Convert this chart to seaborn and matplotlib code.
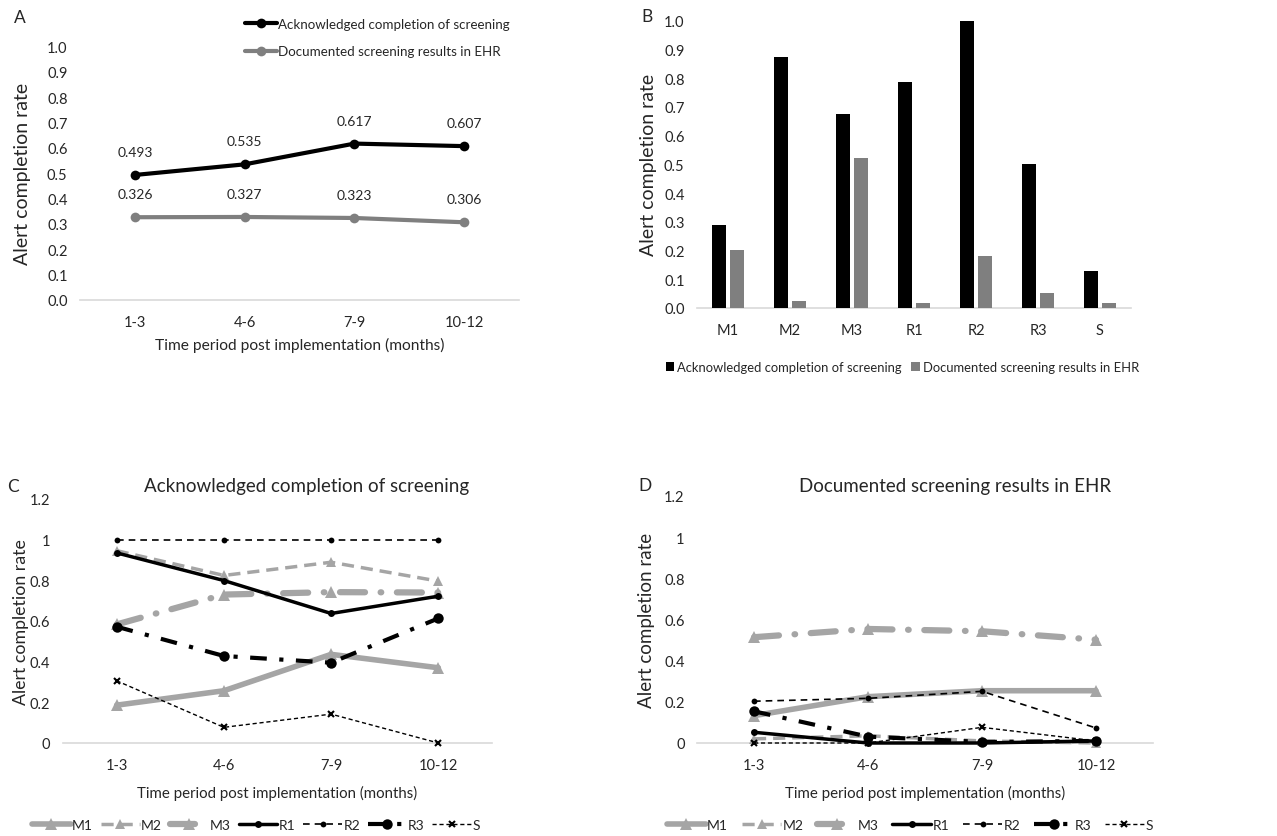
import numpy as np
import pandas as pd
import matplotlib
matplotlib.use("Agg")
import matplotlib.pyplot as plt
import seaborn as sns

# ---------------- data ----------------
periods = ["1-3", "4-6", "7-9", "10-12"]
ack_overall = [0.493, 0.535, 0.617, 0.607]
doc_overall = [0.326, 0.327, 0.323, 0.306]

sites = ["M1", "M2", "M3", "R1", "R2", "R3", "S"]
ack_site = [0.289, 0.874, 0.674, 0.788, 1.0, 0.501, 0.129]
doc_site = [0.203, 0.023, 0.523, 0.016, 0.180, 0.053, 0.019]

ack_M1 = [0.186, 0.257, 0.436, 0.370]
ack_M2 = [0.946, 0.824, 0.889, 0.796]
ack_M3 = [0.583, 0.730, 0.742, 0.740]
ack_R1 = [0.935, 0.799, 0.637, 0.722]
ack_R2 = [1.0, 1.0, 1.0, 1.0]
ack_R3 = [0.572, 0.428, 0.395, 0.613]
ack_S = [0.306, 0.077, 0.142, 0.0]

doc_M1 = [0.133, 0.225, 0.254, 0.254]
doc_M2 = [0.020, 0.035, 0.010, 0.0]
doc_M3 = [0.514, 0.554, 0.543, 0.502]
doc_R1 = [0.052, 0.0, 0.0, 0.010]
doc_R2 = [0.203, 0.217, 0.251, 0.073]
doc_R3 = [0.154, 0.031, 0.005, 0.010]
doc_S = [0.0, 0.0, 0.076, 0.010]

ack_label = "Acknowledged completion of screening"
doc_label = "Documented screening results in EHR"
xlab = "Time period post implementation (months)"
ylab = "Alert completion rate"

# ---------------- style ----------------
sns.set_theme(style="white")
plt.rcParams["font.family"] = ["Lato", "DejaVu Sans"]
TXT = "#262626"
plt.rcParams["text.color"] = TXT
plt.rcParams["axes.labelcolor"] = TXT
plt.rcParams["xtick.color"] = TXT
plt.rcParams["ytick.color"] = TXT

W, H = 1277, 837
fig = plt.figure(figsize=(W / 100, H / 100), dpi=100)
fig.patch.set_facecolor("white")


def px_axes(left, top, right, bottom):
    ax = fig.add_axes([left / W, 1 - bottom / H, (right - left) / W, (bottom - top) / H])
    ax._px = (left, right)
    return ax


def style_axes(ax, tick_fs=10.5):
    for s in ["top", "right", "left"]:
        ax.spines[s].set_visible(False)
    ax.spines["bottom"].set_color("#d9d9d9")
    ax.spines["bottom"].set_linewidth(1.2)
    ax.spines["bottom"].set_zorder(0.5)
    ax.tick_params(axis="both", length=0, labelsize=tick_fs)
    ax.tick_params(axis="y", pad=9)
    ax.tick_params(axis="x", pad=11)
    ax.set_facecolor("white")
    ax.grid(False)


def place_ylabel(ax, x_right_px):
    left, right = ax._px
    ax.yaxis.set_label_coords((x_right_px - left) / (right - left), 0.5)


GRAY_L = "#a5a5a5"
GRAY_D = "#7f7f7f"

# ---------------- Panel A ----------------
axA = px_axes(80, 47.7, 519, 300.7)
sns.lineplot(x=periods, y=ack_overall, ax=axA, color="black", lw=3, marker="o",
             markersize=7, markeredgewidth=0, label=ack_label, sort=False)
sns.lineplot(x=periods, y=doc_overall, ax=axA, color=GRAY_D, lw=3, marker="o",
             markersize=7, markeredgewidth=0, label=doc_label, sort=False)
for i, v in enumerate(ack_overall):
    axA.annotate(f"{v:.3f}", (i, v), xytext=(0, 16.5), textcoords="offset points",
                 ha="center", va="center", fontsize=10, color=TXT)
for i, v in enumerate(doc_overall):
    axA.annotate(f"{v:.3f}", (i, v), xytext=(0, 16.5), textcoords="offset points",
                 ha="center", va="center", fontsize=10, color=TXT)
axA.set_xlim(-0.5, 3.5)
axA.set_ylim(0, 1.0)
axA.set_yticks(np.arange(0, 1.01, 0.1))
axA.set_yticklabels([f"{t:.1f}" for t in np.arange(0, 1.01, 0.1)])
style_axes(axA)
axA.set_xlabel(xlab, fontsize=11.2, labelpad=6)
axA.set_ylabel(ylab, fontsize=14)
place_ylabel(axA, 31)
axA.legend(loc="center left", bbox_to_anchor=(238 / W, 1 - 38.5 / H),
           bbox_transform=fig.transFigure, frameon=False, fontsize=9.6,
           handlelength=2.4, handletextpad=0.1, labelspacing=1.15, borderpad=0)

# ---------------- Panel B ----------------
axB = px_axes(697, 21.7, 1131, 309)
dfB = pd.DataFrame({
    "site": sites * 2,
    "measure": [ack_label] * len(sites) + [doc_label] * len(sites),
    "value": ack_site + doc_site,
})
sns.barplot(data=dfB, x="site", y="value", hue="measure", order=sites,
            hue_order=[ack_label, doc_label], palette=["black", GRAY_D],
            width=0.6, gap=0.25, ax=axB, errorbar=None, saturation=1,
            edgecolor="none", legend=True)
axB.set_xlim(-0.5, 6.5)
axB.set_ylim(0, 1.0)
axB.set_yticks(np.arange(0, 1.01, 0.1))
axB.set_yticklabels([f"{t:.1f}" for t in np.arange(0, 1.01, 0.1)])
style_axes(axB)
axB.set_xlabel("")
axB.set_ylabel(ylab, fontsize=14)
place_ylabel(axB, 657)
hB, lB = axB.get_legend_handles_labels()
axB.legend(hB, lB, loc="center left", bbox_to_anchor=(659 / W, 1 - 368 / H),
           bbox_transform=fig.transFigure, frameon=False, fontsize=9.4,
           ncol=2, handlelength=0.65, handleheight=0.65, handletextpad=0.25,
           columnspacing=0.7, borderpad=0)

# ---------------- Panels C & D ----------------
series_styles = [
    ("M1", dict(color=GRAY_L, lw=4, linestyle="-", marker="^", markersize=8.5)),
    ("M2", dict(color=GRAY_L, lw=2.5, linestyle=(0, (3.5, 2)), marker="^", markersize=6.5)),
    ("M3", dict(color=GRAY_L, lw=4.5, linestyle=(0, (4, 2.5, 0.1, 2.5)), marker="^",
                markersize=9, dash_capstyle="round")),
    ("R1", dict(color="black", lw=2.5, linestyle="-", marker="o", markersize=5)),
    ("R2", dict(color="black", lw=1.2, linestyle=(0, (4, 3)), marker="o", markersize=4.2)),
    ("R3", dict(color="black", lw=3, linestyle=(0, (4, 3, 1, 3)), marker="o", markersize=7.5)),
    ("S", dict(color="black", lw=1, linestyle=(0, (3, 2)), marker="x", markersize=5,
               markeredgewidth=1.5, markeredgecolor="black")),
]
ack_series = {"M1": ack_M1, "M2": ack_M2, "M3": ack_M3, "R1": ack_R1,
              "R2": ack_R2, "R3": ack_R3, "S": ack_S}
doc_series = {"M1": doc_M1, "M2": doc_M2, "M3": doc_M3, "R1": doc_R1,
              "R2": doc_R2, "R3": doc_R3, "S": doc_S}

yt = [0, 0.2, 0.4, 0.6, 0.8, 1.0, 1.2]
ytl = ["0", "0.2", "0.4", "0.6", "0.8", "1", "1.2"]


def draw_sites(ax, data, legend_x, ylab_x, ylab_fs, colspace):
    for name, st in series_styles:
        kw = dict(st)
        kw.setdefault("markeredgewidth", 0)
        sns.lineplot(x=periods, y=data[name], ax=ax, label=name, sort=False,
                     clip_on=False, **kw)
    ax.set_xlim(-0.5, 3.5)
    ax.set_ylim(0, 1.2)
    ax.set_yticks(yt)
    ax.set_yticklabels(ytl)
    style_axes(ax)
    ax.set_xlabel(xlab, fontsize=10.8, labelpad=9)
    ax.set_ylabel(ylab, fontsize=ylab_fs)
    place_ylabel(ax, ylab_x)
    h, l = ax.get_legend_handles_labels()
    ax.legend(h, l, loc="center left", bbox_to_anchor=(legend_x / W, 1 - 826 / H),
              bbox_transform=fig.transFigure, frameon=False, fontsize=10, ncol=7,
              handlelength=2.8, handletextpad=0.1, columnspacing=colspace, borderpad=0,
              numpoints=1)


axC = px_axes(63, 500, 492, 744)
draw_sites(axC, ack_series, 25, 29, 12.8, 0.55)
axD = px_axes(697, 497, 1153, 744)
draw_sites(axD, doc_series, 660, 655, 13.5, 1.0)

fig.text(307 / W, 1 - 487 / H, ack_label, fontsize=13.5, ha="center", va="center", color=TXT)
fig.text(955 / W, 1 - 487 / H, doc_label, fontsize=13.5, ha="center", va="center", color=TXT)

for letter, x, y in [("A", 20, 18), ("B", 647, 17), ("C", 13, 487), ("D", 645, 486)]:
    fig.text(x / W, 1 - y / H, letter, fontsize=12.5, ha="center", va="center", color=TXT)

fig.savefig("out.png", dpi=100, facecolor="white")
